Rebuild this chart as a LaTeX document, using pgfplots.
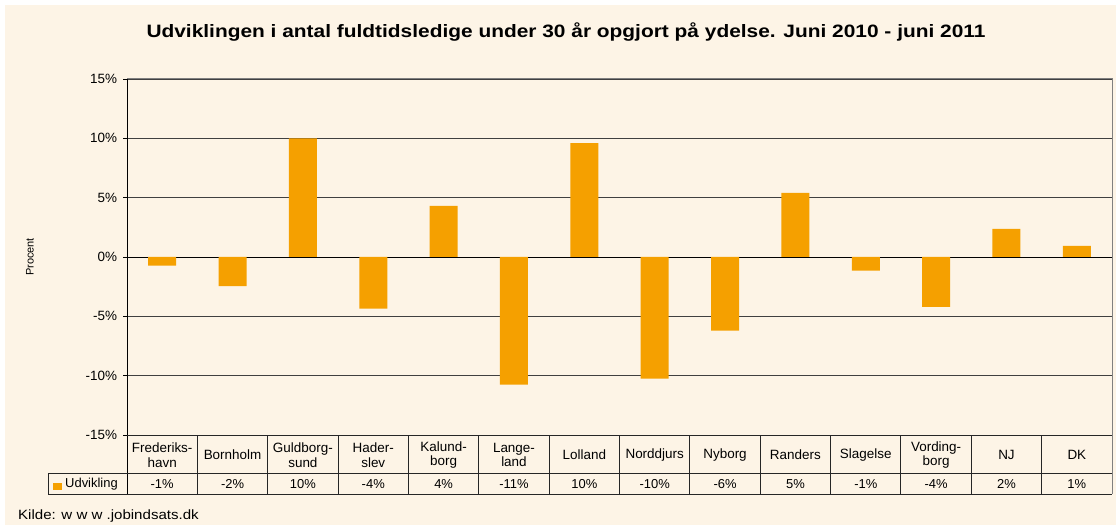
\documentclass[border=0pt]{standalone}
\usepackage{graphicx}
\usepackage{pgfplots}
\pgfplotsset{compat=1.18}
\usepackage{fontspec}
\setmainfont{Liberation Sans}
\definecolor{bg}{RGB}{253,244,230}
\definecolor{barc}{RGB}{245,160,0}
\definecolor{gridc}{RGB}{64,64,64}
\newcommand{\fs}[1]{\fontsize{#1}{#1}\selectfont}
\begin{document}
\begin{tikzpicture}[x=1bp,y=1bp]
\path[use as bounding box] (0,0) rectangle (1116,525);
\fill[bg] (5,0) rectangle (1116,520);
\node[font=\fs{18}\bfseries] at (566,493) {\scalebox{1.165}[1]{Udviklingen i antal fuldtidsledige under 30 år opgjort på ydelse. Juni 2010 - juni 2011}};
\node[font=\fs{11}, rotate=90] at (30,268) {Procent};
\node[font=\fs{13.5}, anchor=west, inner sep=0] at (18,8.5) {\scalebox{1.12}[1]{Kilde: w w w .jobindsats.dk}};
\begin{axis}[
  at={(127bp,90bp)}, anchor=south west,
  width=985bp, height=356bp, scale only axis,
  xmin=-0.5, xmax=13.5, ymin=-15, ymax=15,
  ybar, bar width=28bp,
  ytick={-15,-10,-5,0,5,10,15},
  yticklabels={-15\%,-10\%,-5\%,0\%,5\%,10\%,15\%},
  yticklabel style={font=\fs{13.5}, xshift=-2.5bp},
  ytick pos=left, tick align=outside, major tick length=4bp,
  ytick style={black, line width=0.8bp},
  xtick={0,...,13},
  xtick style={draw=none},
  xticklabels={{Frederiks-\\havn},Bornholm,{Guldborg-\\sund},{Hader-\\slev},{Kalund-\\borg},{Lange-\\land},Lolland,Norddjurs,Nyborg,Randers,Slagelse,{Vording-\\borg},NJ,DK},
  xticklabel style={font=\fontsize{13.5}{14.5}\selectfont, align=center, anchor=center, yshift=-16bp},
  ymajorgrids, grid style={gridc, line width=0.8bp},
  extra y ticks={0}, extra y tick labels={}, extra y tick style={grid style={black, line width=0.9bp}},
  axis line style={draw=none},
  clip=false,
]
\addplot[fill=barc, draw=none] coordinates {
(0,-0.73) (1,-2.45) (2,10.0) (3,-4.35) (4,4.3) (5,-10.75) (6,9.6)
(7,-10.25) (8,-6.2) (9,5.4) (10,-1.15) (11,-4.2) (12,2.36) (13,0.93)};
\foreach \v [count=\i from 0] in {-1\%,-2\%,10\%,-4\%,4\%,-11\%,10\%,-10\%,-6\%,5\%,-1\%,-4\%,2\%,1\%}{
  \edef\temp{\noexpand\node[font=\noexpand\fs{13}] at (axis cs:\i,-15) [yshift=-49bp] {\v};}
  \temp
}
\end{axis}
% plot frame
\draw[gray, line width=1bp] (127,446) -- (1112,446) -- (1112,90);
\draw[black, line width=1bp] (127,446) -- (127,31);
% table
\draw[black!85, line width=0.9bp] (127,90) -- (1112,90);
\draw[black!85, line width=0.9bp] (48,52) -- (1112,52);
\draw[black!85, line width=0.9bp] (48,31) -- (1112,31);
\draw[black!85, line width=0.9bp] (48,31) -- (48,52);
\foreach \k in {1,...,13} \draw[black!85, line width=0.9bp] (127+\k*70.357,31) -- (127+\k*70.357,90);
\draw[gray, line width=1bp] (1112,31) -- (1112,90);
\fill[barc] (53,34.5) rectangle (61.5,42);
\node[font=\fs{13}, anchor=west, inner sep=0] at (65,41) {Udvikling};
\end{tikzpicture}
\end{document}
